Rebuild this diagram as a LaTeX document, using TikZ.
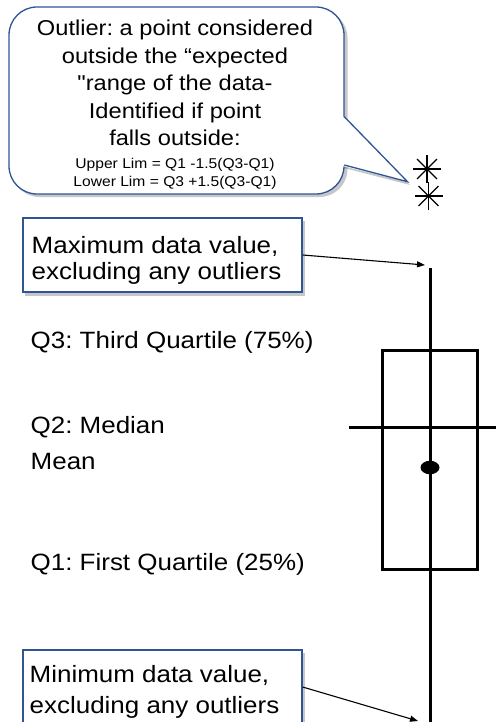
\documentclass[tikz,border=0pt]{standalone}
\usepackage{fontspec}
\setmainfont{Liberation Sans}[FakeStretch=1.1]
\newfontfamily\rawquotefont{Liberation Sans}[FakeStretch=1.1,Ligatures=TeXOff]
\usetikzlibrary{arrows.meta,shapes.geometric}
\definecolor{boxblue}{RGB}{47,85,151}
\frenchspacing
\begin{document}
\begin{tikzpicture}[x=1pt,y=-1pt,
  bluebox/.style={draw=boxblue, line width=1.3pt, fill=white, inner sep=0pt,
    minimum width=279pt, minimum height=74pt},
  boxshadow/.style={fill=black, opacity=0.22, draw=none, inner sep=0pt,
    minimum width=280pt, minimum height=75pt},
  boxtext/.style={anchor=north west, inner sep=0pt, align=left},
  qlabel/.style={anchor=base west, inner sep=0pt, font=\fontsize{23.6}{26.6}\selectfont},
  plotline/.style={line width=2.8pt, black},
  pointer/.style={line width=1.1pt, -{Triangle[length=8pt,width=6pt]}},
  starline/.style={line width=1.4pt, black},
]
\useasboundingbox (0,0) rectangle (495,722);

% ---------- callout ----------
\fill[black, opacity=0.22, rounded corners=28pt] (11.5,10) rectangle (347.5,197);
\fill[black, opacity=0.22] (344,120) -- (410,185) -- (344,168) -- cycle;
\node[draw=boxblue, line width=1.3pt, fill=white, rounded corners=28pt,
  minimum width=335pt, minimum height=187pt, inner sep=0pt] (callout) at (176.5,100.5) {};
\coordinate (tailA) at (344.3,116.7);
\coordinate (tailB) at (344.3,165);
\coordinate (tailtip) at (407.5,181.7);
\fill[white] (342.5,116) -- (tailtip) -- (342.5,166) -- cycle;
\draw[boxblue, line width=1.3pt, line join=miter] (tailA) -- (tailtip) -- (tailB);

\node[anchor=north, inner sep=0pt, align=center,
  font=\fontsize{21.5}{27.5}\selectfont] (calltext) at (175,19.8)
  {Outlier: a point considered\\outside the “expected\\{\rawquotefont\char34}range of the data-\\Identified if point\\falls outside:};
\node[anchor=north, inner sep=0pt, align=center,
  font=\fontsize{14.2}{18.3}\selectfont] (callform) at (175,158)
  {Upper Lim = Q1 -1.5(Q3-Q1)\\Lower Lim = Q3 +1.5(Q3-Q1)};

% ---------- outliers ----------
\coordinate (out1) at (427,169);
\coordinate (out2) at (428.5,196);
\foreach \a in {0,45,90,135} {
  \draw[starline] (out1) ++(\a:14) -- ++(\a+180:28);
  \draw[starline] (out2) ++(\a:14) -- ++(\a+180:28);
}

% ---------- label boxes ----------
\node[boxshadow] at (165,258) {};
\node[bluebox] (maxbox) at (162.5,255) {};
\node[boxtext, font=\fontsize{23.6}{26.6}\selectfont] (maxtext) at (31.5,236)
  {Maximum data value,\\excluding any outliers};

\node[boxshadow] at (165,690) {};
\node[bluebox] (minbox) at (162.5,687) {};
\node[boxtext, font=\fontsize{23.6}{30.6}\selectfont] (mintext) at (29.5,665.5)
  {Minimum data value,\\excluding any outliers};

% ---------- quartile labels ----------
\node[qlabel] (q3) at (30.5,348) {Q3: Third Quartile (75\%)};
\node[qlabel] (q2) at (30.5,433) {Q2: Median};
\node[qlabel] (mn) at (30.5,469) {Mean};
\node[qlabel] (q1) at (30.5,570) {Q1: First Quartile (25\%)};

% ---------- box plot ----------
\node[draw, line width=2.6pt, minimum width=95pt, minimum height=218.6pt,
  inner sep=0pt] (qbox) at (430.2,460) {};
\coordinate (wtop) at (430.5,268);
\coordinate (wbot) at (430.5,726);
\draw[plotline] (wtop) -- (wbot);
\coordinate (medL) at (349,427.5);
\coordinate (medR) at (497,427.5);
\draw[plotline] (medL) -- (medR);
\node[ellipse, fill=black, minimum width=19pt, minimum height=13.5pt, inner sep=0pt]
  (meandot) at (430,467.5) {};

% ---------- pointers ----------
\coordinate (maxtip) at (425,265);
\coordinate (mintip) at (418,721);
\draw[pointer] (maxbox.east) -- (maxtip);
\draw[pointer] (minbox.east) -- (mintip);
\end{tikzpicture}
\end{document}
